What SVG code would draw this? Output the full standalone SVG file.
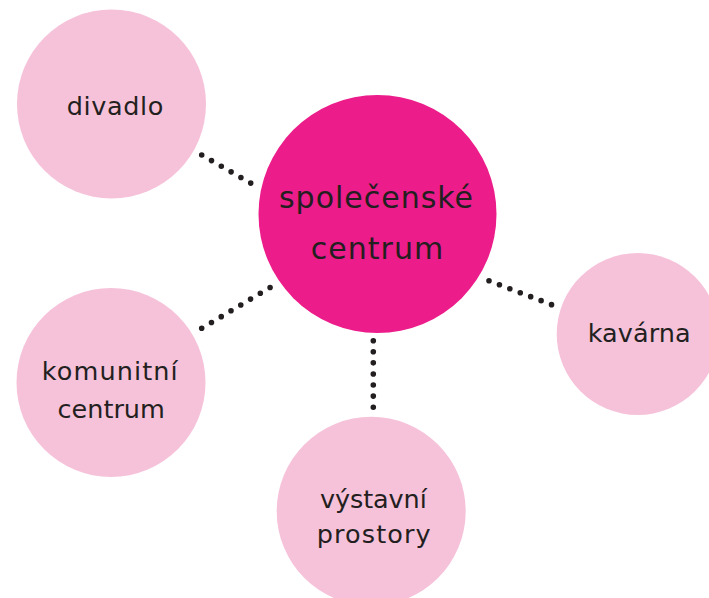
<svg xmlns="http://www.w3.org/2000/svg" width="709" height="598" viewBox="0 0 709 598">
<style>
.bg{fill:#ffffff}
.main{fill:#EC1C8A}
.sub{fill:#F6C2DA}
text{font-family:"DejaVu Sans","Noto Sans",sans-serif;fill:#231F20;text-anchor:middle}
.t1{font-size:30px}
.t2{font-size:25.5px}
.dots{stroke:#231F20;stroke-width:5.6;stroke-linecap:round;fill:none}
</style>
<rect class="bg" x="0" y="0" width="709" height="598"/>
<g id="connectors">
<line class="dots" x1="201.7" y1="155" x2="251.2" y2="183.4" stroke-dasharray="0 11.3"/>
<line class="dots" x1="201.7" y1="328.3" x2="270.5" y2="287.2" stroke-dasharray="0 11.38"/>
<line class="dots" x1="373.3" y1="340.7" x2="373.3" y2="407.6" stroke-dasharray="0 11.08"/>
<line class="dots" x1="489" y1="280.7" x2="551.9" y2="304.8" stroke-dasharray="0 11.16"/>
</g>
<g id="node-divadlo">
<circle class="sub" cx="111.5" cy="104" r="94.5"/>
<text class="t2" x="115" y="115" textLength="96.6" lengthAdjust="spacing">divadlo</text>
</g>
<g id="node-spolecenske-centrum">
<circle class="main" cx="377.5" cy="214" r="119"/>
<text class="t1" x="376" y="208" textLength="194" lengthAdjust="spacing">společenské</text>
<text class="t1" x="377" y="259" textLength="132.6" lengthAdjust="spacing">centrum</text>
</g>
<g id="node-komunitni-centrum">
<circle class="sub" cx="111" cy="382.5" r="94.5"/>
<text class="t2" x="109.7" y="380" textLength="136" lengthAdjust="spacing">komunitní</text>
<text class="t2" x="111.2" y="418.3">centrum</text>
</g>
<g id="node-kavarna">
<circle class="sub" cx="637.7" cy="334" r="81"/>
<text class="t2" x="639.2" y="341.7" textLength="103" lengthAdjust="spacing">kavárna</text>
</g>
<g id="node-vystavni-prostory">
<circle class="sub" cx="371.2" cy="511.2" r="94.5"/>
<text class="t2" x="373.4" y="507.7" textLength="106.7" lengthAdjust="spacing">výstavní</text>
<text class="t2" x="373.7" y="543.3" textLength="114" lengthAdjust="spacing">prostory</text>
</g>
</svg>
